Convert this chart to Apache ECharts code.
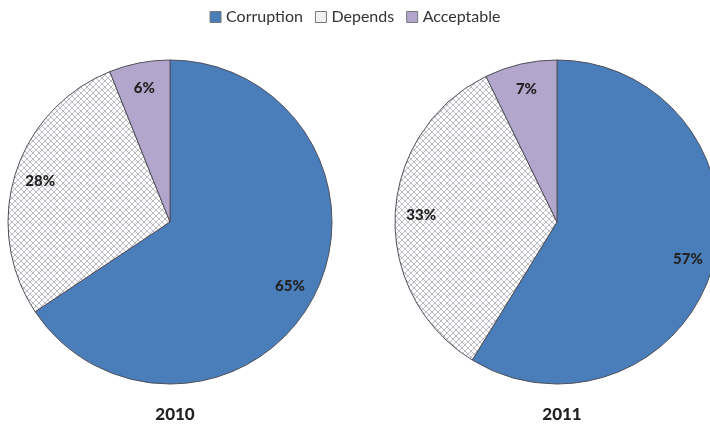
<!DOCTYPE html>
<html><head><meta charset="utf-8">
<script src="https://cdn.jsdelivr.net/npm/echarts@6/dist/echarts.min.js"></script>
<style>html,body{margin:0;padding:0;background:#fff}#c{width:710px;height:429px}</style>
</head><body><div id="c"></div>
<script>
const categories = ['Corruption', 'Depends', 'Acceptable'];
const years = ['2010', '2011'];
const values2010 = [65, 28, 6];
const values2011 = [57, 33, 7];
const labels2010 = ['65%', '28%', '6%'];
const labels2011 = ['57%', '33%', '7%'];

function hatch() {
  const c = document.createElement('canvas');
  c.width = 6; c.height = 6;
  const g = c.getContext('2d');
  g.fillStyle = '#ffffff'; g.fillRect(0, 0, 6, 6);
  g.strokeStyle = '#b4b4bc'; g.lineWidth = 0.9;
  g.beginPath();
  g.moveTo(0, 0); g.lineTo(6, 6);
  g.moveTo(6, 0); g.lineTo(0, 6);
  g.stroke();
  return c;
}
const colors = ['#4a7ebb', {image: hatch(), repeat: 'repeat'}, '#b3a6cc'];
const legendColors = ['#4a7ebb', '#f0f0f0', '#b3a6cc'];

const font = 'Lato, "Open Sans", sans-serif';
const centers = [[170, 222], [557, 222]];
const R = 162;

function fillSeries(vals, center) {
  return {
    type: 'pie', center: center, radius: [0, R], startAngle: 90, clockwise: true,
    silent: true, label: {show: false}, labelLine: {show: false},
    data: categories.map((n, i) => ({name: n, value: vals[i],
      itemStyle: {color: colors[i], borderColor: '#50505a', borderWidth: 1}}))
  };
}
function labelSeries(vals, labs, center) {
  return {
    type: 'pie', center: center, radius: [104, R], startAngle: 90, clockwise: true,
    silent: true, legendHoverLink: false,
    label: {show: true, position: 'inside', formatter: p => labs[p.dataIndex],
      fontFamily: font, fontWeight: 900, fontSize: 15, color: '#222'},
    labelLine: {show: false},
    data: categories.map((n, i) => ({name: n + ' ', value: vals[i],
      itemStyle: {color: 'rgba(0,0,0,0)', borderWidth: 0}}))
  };
}

const chart = echarts.init(document.getElementById('c'), null, {renderer: 'canvas'});
chart.setOption({
  animation: false,
  legend: {
    top: 4, left: 'center', itemWidth: 11, itemHeight: 11, itemGap: 12,
    icon: 'rect',
    data: categories.map((n, i) => ({name: n, itemStyle: {color: legendColors[i], borderColor: '#777', borderWidth: 1}})),
    textStyle: {fontFamily: font, fontSize: 16, color: '#333'},
    selectedMode: false
  },
  title: years.map((y, i) => ({
    text: y, left: centers[i][0], top: 401, textAlign: 'center',
    textStyle: {fontFamily: font, fontWeight: 900, fontSize: 17, color: '#222'}
  })),
  series: [
    fillSeries(values2010, centers[0]),
    fillSeries(values2011, centers[1]),
    labelSeries(values2010, labels2010, centers[0]),
    labelSeries(values2011, labels2011, centers[1])
  ]
});
</script></body></html>
